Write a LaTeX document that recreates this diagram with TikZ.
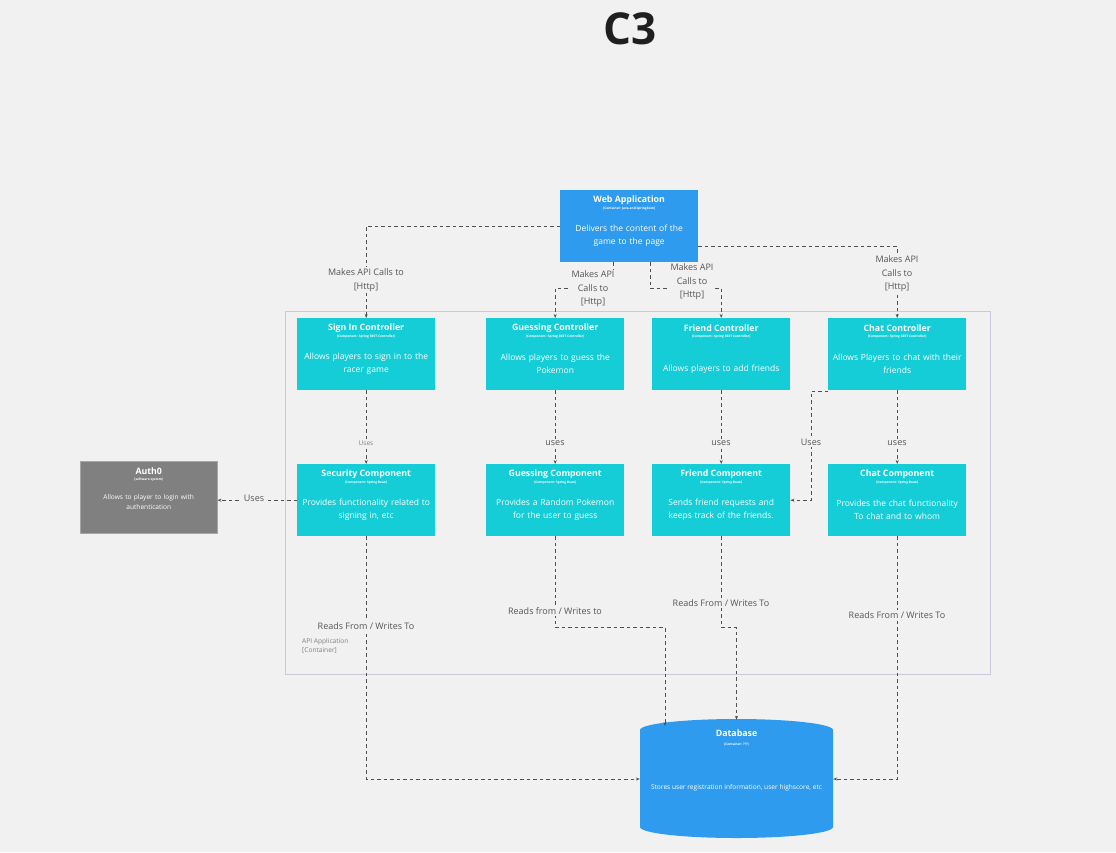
\documentclass[tikz,border=0pt]{standalone}
\usepackage{fontspec}
\setmainfont{Open Sans}
\usetikzlibrary{arrows.meta}
\definecolor{bgc}{HTML}{F1F1F1}
\definecolor{blueb}{HTML}{2F9BEE}
\definecolor{cyanb}{HTML}{14CDD6}
\definecolor{grayb}{HTML}{808080}
\definecolor{linec}{HTML}{505050}
\definecolor{lblc}{HTML}{555555}
\definecolor{frame}{HTML}{C9C9DD}
\tikzset{
  boxst/.style={rectangle,inner sep=0pt,minimum width=138pt,minimum height=72pt,anchor=north west},
  ttl/.style={text=white,font=\fontsize{8.8}{10}\selectfont\bfseries,inner sep=0pt},
  sub/.style={text=white,font=\fontsize{3.2}{4}\selectfont\bfseries,inner sep=0pt},
  bdy/.style={text=white,font=\fontsize{8.5}{13.5}\selectfont,inner sep=0pt,align=center,text width=136pt},
  conn/.style={draw=linec,line width=0.8pt,dash pattern=on 3.5pt off 3pt,-{Stealth[length=4pt,width=3pt]}},
  lbl/.style={text=lblc,font=\fontsize{9}{13.5}\selectfont,fill=bgc,inner sep=1.5pt,align=center},
}
\newcommand{\mybox}[8]{%
  \node[boxst,fill=#4] (#1) at (#2,#3) {};
  \node[ttl] (#1-t) at ([yshift=-10pt]#1.north) {#5};
  \node[sub] (#1-s) at ([yshift=-19pt]#1.north) {#6};
  \node[bdy] (#1-b) at ([yshift=-#8pt]#1.north) {#7};
}
\begin{document}
\begin{tikzpicture}[x=1pt,y=-1pt]
\fill[bgc] (0,0) rectangle (1116,852);
\useasboundingbox (0,0) rectangle (1116,852);
\node[font=\fontsize{44}{52}\selectfont\bfseries,text=black!88] (title) at (630,29) {C3};
% container frame
\draw[frame,line width=0.6pt] (285,311) rectangle (990,674);
\node[anchor=north west,text=grayb,font=\fontsize{6.6}{9}\selectfont,align=left,inner sep=0pt] (apiapp) at (302,638) {API Application\\{[Container]}};
% boxes
\mybox{web}{560}{190}{blueb}{Web Application}{[Container: Java and Springboot]}{Delivers the content of the\\game to the page}{46}
\mybox{signc}{297}{318}{cyanb}{Sign In Controller}{[Component: Spring REST Controller]}{Allows players to sign in to the\\racer game}{46}
\mybox{guessc}{486}{318}{cyanb}{Guessing Controller}{[Component: Spring REST Controller]}{Allows players to guess the\\Pokemon}{46}
\mybox{friendc}{652}{318}{cyanb}{Friend Controller}{[Component: Spring REST Controller]}{Allows players to add friends}{51}
\mybox{chatc}{828}{318}{cyanb}{Chat Controller}{[Component: Spring REST Controller]}{Allows Players to chat with their\\friends}{46}
\mybox{secc}{297}{464}{cyanb}{Security Component}{[Component: Spring Bean]}{Provides functionality related to\\signing in, etc}{46}
\mybox{guesscomp}{486}{464}{cyanb}{Guessing Component}{[Component: Spring Bean]}{Provides a Random Pokemon\\for the user to guess}{46}
\mybox{friendcomp}{652}{464}{cyanb}{Friend Component}{[Component: Spring Bean]}{Sends friend requests and\\keeps track of the friends.}{46}
\mybox{chatcomp}{828}{464}{cyanb}{Chat Component}{[Component: Spring Bean]}{Provides the chat functionality\\To chat and to whom}{46}
% Auth0
\node[boxst,fill=grayb,minimum width=137pt,draw=grayb!70!white,line width=0.5pt] (auth) at (80,461) {};
\node[ttl] (auth-t) at ([yshift=-10pt]auth.north) {Auth0};
\node[sub] (auth-s) at ([yshift=-19pt]auth.north) {[software system]};
\node[bdy,font=\fontsize{6.6}{10.5}\selectfont] (auth-b) at ([yshift=-41pt]auth.north) {Allows to player to login with\\authentication};
% Database cylinder
\fill[blueb] (640,730) -- (640,827) arc[start angle=180,end angle=360,x radius=96.5pt,y radius=11pt] -- (833,730) arc[start angle=0,end angle=180,x radius=96.5pt,y radius=11pt] -- cycle;
\node[rectangle,inner sep=0pt,minimum width=193pt,minimum height=118pt] (db) at (736.5,779) {};
\node[ttl] (db-t) at (736.5,733) {Database};
\node[sub] (db-s) at (736.5,745) {[Container: ???]};
\node[text=white,font=\fontsize{6.6}{8}\selectfont,inner sep=0pt] (db-b) at (736.5,788) {Stores user registration information, user highscore, etc};
% connectors from web app
\draw[conn] (web.west) -| (signc.north);
\node[lbl] (l1) at (366,280) {Makes API Calls to\\{[Http]}};
\coordinate (w2) at ([xshift=-16pt]web.south);
\draw[conn] (w2) -- ++(0,26) -| (guessc.north);
\node[lbl] (l2) at (593,289) {Makes API\\Calls to\\{[Http]}};
\coordinate (w3) at ([xshift=21pt]web.south);
\draw[conn] (w3) -- ++(0,26) -| (friendc.north);
\node[lbl] (l3) at (692,282) {Makes API\\Calls to\\{[Http]}};
\coordinate (w4) at ([yshift=-20.5pt]web.east);
\draw[conn] (w4) -| (chatc.north);
\node[lbl] (l4) at (897,274) {Makes API\\Calls to\\{[Http]}};
% uses
\draw[conn] (signc.south) -- (secc.north);
\node[lbl,font=\fontsize{6.5}{8}\selectfont,text=grayb] (u1) at (366,443) {Uses};
\draw[conn] (guessc.south) -- (guesscomp.north);
\node[lbl] (u2) at (555,443) {uses};
\draw[conn] (friendc.south) -- (friendcomp.north);
\node[lbl] (u3) at (721,443) {uses};
\draw[conn] (chatc.south) -- (chatcomp.north);
\node[lbl] (u4) at (897,443) {uses};
\coordinate (c5) at ([yshift=-1pt]chatc.south west);
\draw[conn] (c5) -- ++(-17,0) |- (friendcomp.east);
\node[lbl] (u5) at (811,442) {Uses};
\draw[conn] (secc.west) -- (secc.west -| auth.east);
\node[lbl] (u6) at (254,498) {Uses};
% reads/writes
\draw[conn] (secc.south) |- (db.west);
\node[lbl] (r1) at (366,626) {Reads From / Writes To};
\coordinate (dbA) at (665,726);
\draw[conn] (guesscomp.south) -- ++(0,91) -| (dbA);
\node[lbl] (r2) at (555,611) {Reads from / Writes to};
\draw[conn] (friendcomp.south) -- ++(0,91) -| (db.north);
\node[lbl] (r3) at (721,603) {Reads From / Writes To};
\draw[conn] (chatcomp.south) |- (db.east);
\node[lbl] (r4) at (897,615) {Reads From / Writes To};
\end{tikzpicture}
\end{document}
